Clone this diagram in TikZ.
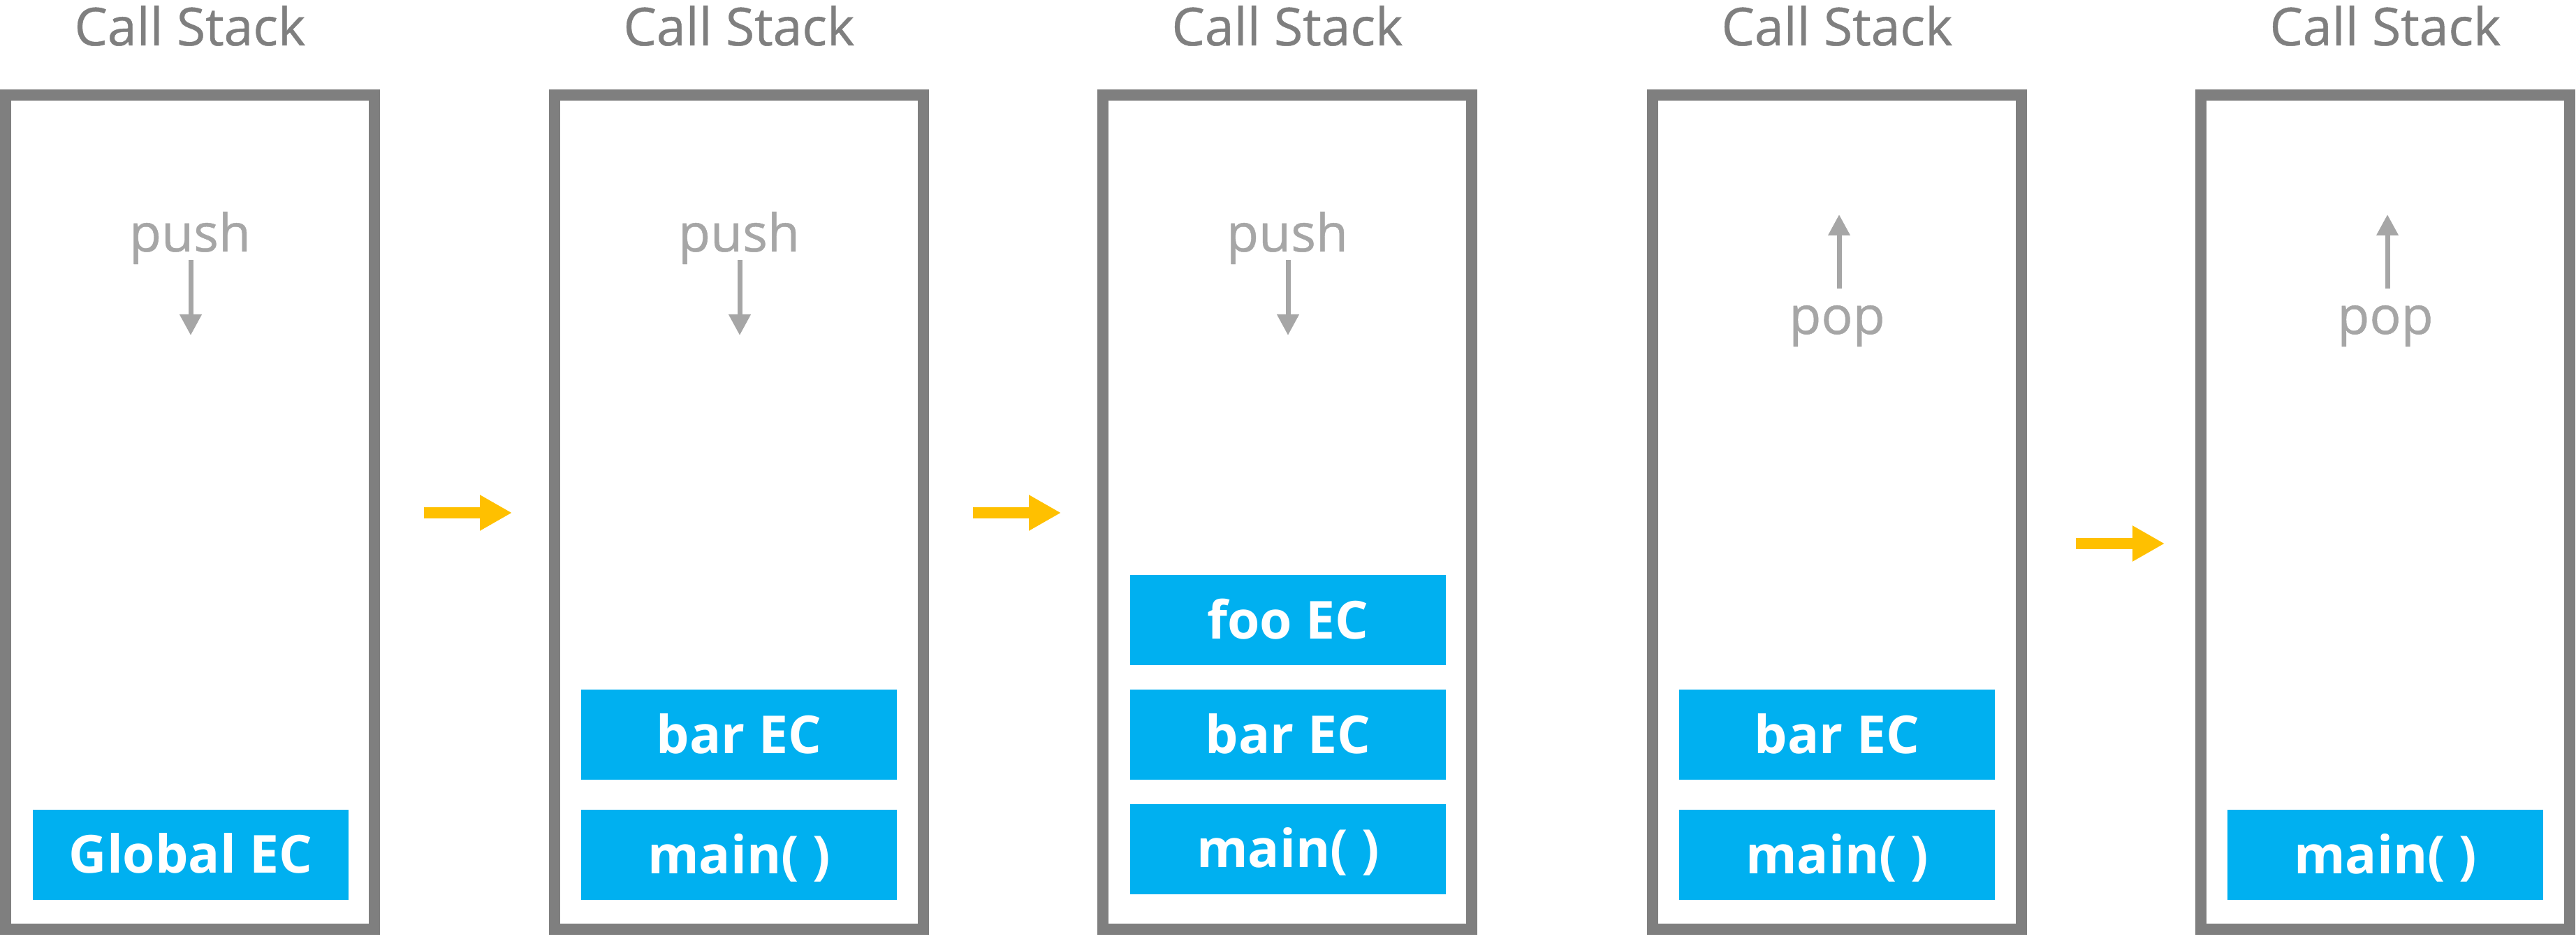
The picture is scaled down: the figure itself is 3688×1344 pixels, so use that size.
\documentclass[tikz,border=0pt]{standalone}
\usepackage{fontspec}
\setmainfont{Open Sans}
\newfontfamily\headfont[FakeBold=0.6]{Open Sans}
\usetikzlibrary{arrows.meta}
\definecolor{framegray}{RGB}{127,127,127}
\definecolor{labelgray}{RGB}{166,166,166}
\definecolor{ecblue}{RGB}{0,176,240}
\definecolor{stepyellow}{RGB}{255,192,0}
\begin{document}
\begin{tikzpicture}[x=0.2pt,y=-0.2pt,
  stackframe/.style={draw=framegray, line width=3.2pt, fill=white, inner sep=0pt,
    minimum width=105.6pt, minimum height=238.8pt},
  title/.style={text=framegray, font=\headfont\fontsize{15}{18}\selectfont, anchor=base, inner sep=0pt},
  oplabel/.style={text=labelgray, font=\headfont\fontsize{15}{18}\selectfont, anchor=base, inner sep=0pt},
  oparrow/.style={draw=labelgray, line width=1.4pt, -{Triangle[length=6pt,width=6pt]}},
  ecbox/.style={fill=ecblue, text=white, font=\bfseries\fontsize{15}{18}\selectfont,
    minimum width=90.4pt, minimum height=25.8pt, inner sep=0pt,
    text height=10.7pt, text depth=0pt},
  flowarrow/.style={draw=stepyellow, line width=3.2pt, -{Triangle[length=9.2pt,width=9.6pt]}}]
\useasboundingbox (0,0) rectangle (3688,1344);

% stack frames
\node[stackframe] (s1) at (272,733) {};
\node[stackframe] (s2) at (1058,733) {};
\node[stackframe] (s3) at (1843,733) {};
\node[stackframe] (s4) at (2630,733) {};
\node[stackframe] (s5) at (3415,733) {};

% titles
\node[title] (t1) at (272,65) {Call Stack};
\node[title] (t2) at (1058,65) {Call Stack};
\node[title] (t3) at (1843,65) {Call Stack};
\node[title] (t4) at (2630,65) {Call Stack};
\node[title] (t5) at (3415,65) {Call Stack};

% push labels
\node[oplabel] (push1) at (272,360) {push};
\node[oplabel] (push2) at (1058,360) {push};
\node[oplabel] (push3) at (1843,360) {push};
\coordinate (pa1) at (273,372); \coordinate (pb1) at (273,480);
\coordinate (pa2) at (1059,372); \coordinate (pb2) at (1059,480);
\coordinate (pa3) at (1844,372); \coordinate (pb3) at (1844,480);
\draw[oparrow] (pa1) -- (pb1);
\draw[oparrow] (pa2) -- (pb2);
\draw[oparrow] (pa3) -- (pb3);

% pop labels
\node[oplabel] (pop4) at (2630,478) {pop};
\node[oplabel] (pop5) at (3415,478) {pop};
\coordinate (qa4) at (2633,413); \coordinate (qb4) at (2633,307);
\coordinate (qa5) at (3418,413); \coordinate (qb5) at (3418,307);
\draw[oparrow] (qa4) -- (qb4);
\draw[oparrow] (qa5) -- (qb5);

% execution contexts
\node[ecbox] (g1) at (273,1223) {Global EC};

\node[ecbox] (bar2) at (1058,1051.5) {bar EC};
\node[ecbox] (main2) at (1058,1223.5) {main( )};

\node[ecbox] (foo3) at (1844,887.5) {foo EC};
\node[ecbox] (bar3) at (1844,1051.5) {bar EC};
\node[ecbox] (main3) at (1844,1215) {main( )};

\node[ecbox] (bar4) at (2630,1051.5) {bar EC};
\node[ecbox] (main4) at (2630,1223.5) {main( )};

\node[ecbox] (main5) at (3415,1223.5) {main( )};

% flow arrows
\coordinate (fa1) at (607,734); \coordinate (fb1) at (733,734);
\coordinate (fa2) at (1393,734); \coordinate (fb2) at (1519,734);
\coordinate (fa3) at (2972,778); \coordinate (fb3) at (3099,778);
\draw[flowarrow] (fa1) -- (fb1);
\draw[flowarrow] (fa2) -- (fb2);
\draw[flowarrow] (fa3) -- (fb3);
\end{tikzpicture}
\end{document}
